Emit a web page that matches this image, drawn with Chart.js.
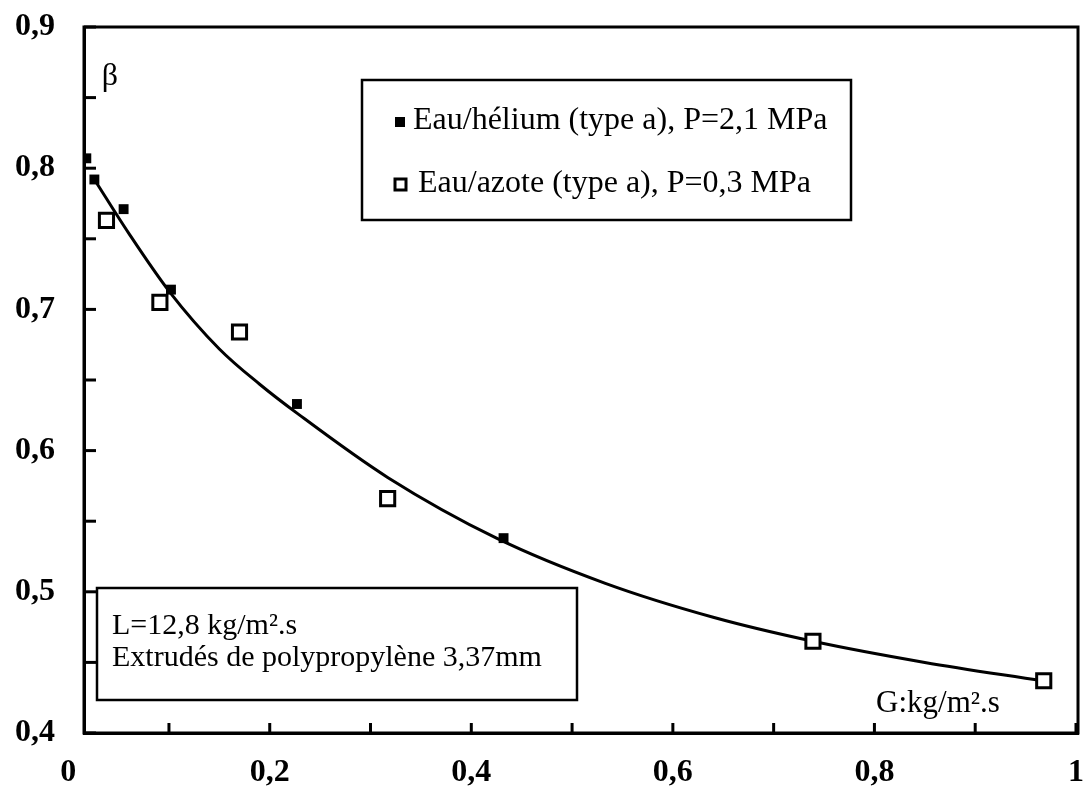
<!DOCTYPE html>
<html>
<head>
<meta charset="utf-8">
<script src="https://cdn.jsdelivr.net/npm/chart.js@4"></script>
<style>
  body { margin: 0; background: #fff; }
  #wrap { width: 1091px; height: 794px; }
</style>
</head>
<body>
<div id="wrap"><canvas id="beta-chart"></canvas></div>
<script>
// G (kg/m2.s) and beta
const heliumG = [0.018, 0.026, 0.055, 0.102, 0.227, 0.432];
const heliumBeta = [0.807, 0.792, 0.771, 0.714, 0.633, 0.538];

const azoteG = [0.038, 0.091, 0.170, 0.317, 0.739, 0.968];
const azoteBeta = [0.763, 0.705, 0.684, 0.566, 0.465, 0.437];

// fitted curve
const curveG = [0.026, 0.060, 0.100, 0.150, 0.190, 0.228, 0.317, 0.425, 0.533, 0.640, 0.739, 0.850, 0.966];
const curveBeta = [0.792, 0.754, 0.713, 0.672, 0.647, 0.626, 0.581, 0.538, 0.506, 0.482, 0.465, 0.450, 0.437];

const xTickValues = [0, 0.1, 0.2, 0.3, 0.4, 0.5, 0.6, 0.7, 0.8, 0.9, 1];
const legendLabels = ['Eau/hélium (type a), P=2,1 MPa', 'Eau/azote (type a), P=0,3 MPa'];
const noteLines = ['L=12,8 kg/m².s', 'Extrudés de polypropylène 3,37mm'];
const yTitle = 'β';
const xTitle = 'G:kg/m².s';

function pairs(xs, ys) {
  return xs.map((x, i) => ({ x, y: ys[i] }));
}

const FONT = '"Liberation Serif", "Times New Roman", serif';

const framePlugin = {
  id: 'frame',
  afterDraw(chart) {
    const ctx = chart.ctx;
    const a = chart.chartArea;
    const xs = chart.scales.x;
    const ys = chart.scales.y;
    ctx.save();
    ctx.strokeStyle = '#000';
    ctx.fillStyle = '#000';

    // inward tick marks
    ctx.lineWidth = 3;
    ys.ticks.forEach(t => {
      const py = ys.getPixelForValue(t.value);
      ctx.beginPath();
      ctx.moveTo(a.left, py);
      ctx.lineTo(a.left + 12, py);
      ctx.stroke();
    });
    xs.ticks.forEach(t => {
      if (t.value < xs.min || t.value > xs.max) return;
      const px = xs.getPixelForValue(t.value);
      ctx.beginPath();
      ctx.moveTo(px, a.bottom);
      ctx.lineTo(px, a.bottom - 10);
      ctx.stroke();
    });

    // frame
    ctx.lineWidth = 3;
    ctx.strokeRect(a.left, a.top, a.right - a.left, a.bottom - a.top);

    // legend box
    const lx = a.left + 278, ly = a.top + 53;
    ctx.fillStyle = '#fff';
    ctx.fillRect(lx, ly, 489, 140);
    ctx.lineWidth = 2.5;
    ctx.strokeRect(lx, ly, 489, 140);
    ctx.fillStyle = '#000';
    ctx.fillRect(lx + 33, ly + 37, 10, 10);
    ctx.lineWidth = 3;
    ctx.strokeRect(lx + 33, ly + 99, 11, 11);
    ctx.font = '32px ' + FONT;
    ctx.textBaseline = 'middle';
    ctx.textAlign = 'left';
    ctx.fillText(legendLabels[0], lx + 51, ly + 41);
    ctx.fillText(legendLabels[1], lx + 56, ly + 104);

    // note box
    const nx = a.left + 13, ny = a.top + 561;
    ctx.fillStyle = '#fff';
    ctx.fillRect(nx, ny, 480, 112);
    ctx.lineWidth = 2.5;
    ctx.strokeRect(nx, ny, 480, 112);
    ctx.fillStyle = '#000';
    ctx.textBaseline = 'alphabetic';
    ctx.font = '30px ' + FONT;
    ctx.fillText(noteLines[0], nx + 15, ny + 46);
    ctx.fillText(noteLines[1], nx + 15, ny + 78);

    // axis titles
    ctx.font = '32px ' + FONT;
    ctx.textAlign = 'center';
    ctx.fillText(yTitle, a.left + 26, a.top + 58);
    ctx.font = '31px ' + FONT;
    ctx.fillText(xTitle, a.left + 854, a.bottom - 21);
    ctx.restore();
  },
};

new Chart(document.getElementById('beta-chart'), {
  type: 'scatter',
  data: {
    datasets: [
      {
        label: 'courbe',
        data: pairs(curveG, curveBeta),
        showLine: true,
        pointRadius: 0,
        borderColor: '#000',
        borderWidth: 3,
        cubicInterpolationMode: 'monotone',
        order: 3,
      },
      {
        label: legendLabels[0],
        data: pairs(heliumG, heliumBeta),
        pointStyle: 'rect',
        pointRadius: 7,
        backgroundColor: '#000',
        borderColor: '#000',
        borderWidth: 0,
        order: 1,
      },
      {
        label: legendLabels[1],
        data: pairs(azoteG, azoteBeta),
        pointStyle: 'rect',
        pointRadius: 10,
        backgroundColor: '#fff',
        borderColor: '#000',
        borderWidth: 3,
        order: 2,
      },
    ],
  },
  options: {
    responsive: true,
    maintainAspectRatio: false,
    animation: false,
    layout: { padding: { top: 27, right: 4, left: 0, bottom: 0 } },
    plugins: {
      legend: { display: false },
      tooltip: { enabled: false },
    },
    scales: {
      x: {
        type: 'linear',
        min: 0.0157,
        max: 1.002,
        grid: { display: false, drawTicks: false },
        border: { color: '#000', width: 3 },
        afterBuildTicks(s) {
          s.ticks = xTickValues.map(v => ({ value: v }));
        },
        afterFit(s) {
          s.height = 61;
          s.paddingLeft = 0;
          s.paddingRight = 0;
        },
        ticks: {
          padding: 21,
          color: '#000',
          maxRotation: 0,
          autoSkip: false,
          font: { family: FONT, size: 32, weight: 'bold' },
          callback(v) {
            const r = Math.round(v * 10);
            if (r % 2 !== 0) return '';
            if (r === 0) return '0';
            if (r === 10) return '1';
            return (r / 10).toFixed(1).replace('.', ',');
          },
        },
      },
      y: {
        type: 'linear',
        min: 0.4,
        max: 0.9,
        grid: { display: false, drawTicks: false },
        border: { color: '#000', width: 3 },
        afterFit(s) {
          s.width = 84;
          s.paddingTop = 0;
          s.paddingBottom = 0;
        },
        ticks: {
          stepSize: 0.05,
          padding: 29,
          color: '#000',
          autoSkip: false,
          font: { family: FONT, size: 32, weight: 'bold' },
          callback(v) {
            const r = Math.round(v * 100);
            if (r % 10 !== 0) return '';
            return (r / 100).toFixed(1).replace('.', ',');
          },
        },
      },
    },
  },
  plugins: [framePlugin],
});
</script>
</body>
</html>
